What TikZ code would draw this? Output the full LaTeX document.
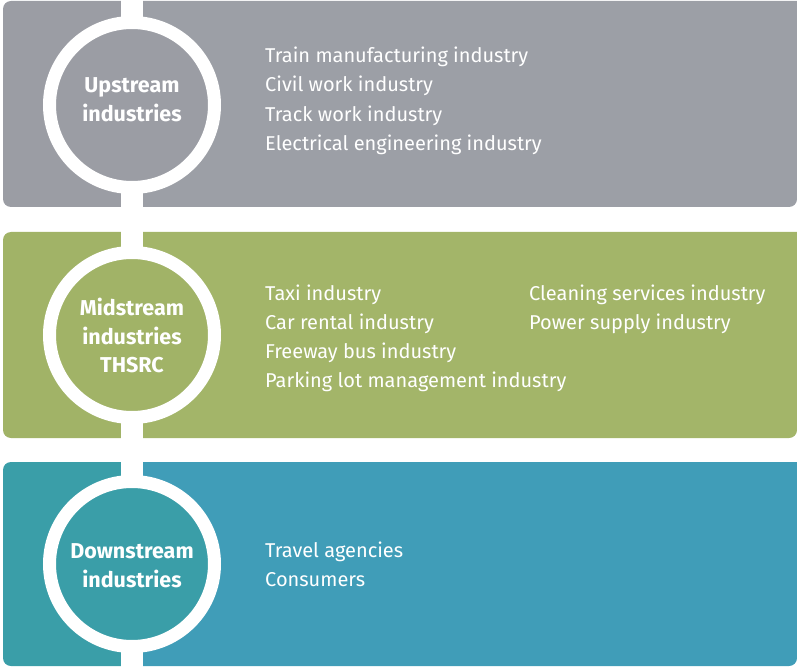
\documentclass[tikz,border=0pt]{standalone}
\usepackage{fontspec}
\setmainfont{Fira Sans}
\definecolor{grayL}{HTML}{9B9DA4}
\definecolor{grayR}{HTML}{9C9FA6}
\definecolor{greenL}{HTML}{A1B367}
\definecolor{greenR}{HTML}{A3B569}
\definecolor{tealL}{HTML}{3A9EA8}
\definecolor{tealR}{HTML}{409DB8}
\begin{document}
\begin{tikzpicture}[x=1pt,y=-1pt,
  item/.style={anchor=base west,inner sep=0pt,text=white,font=\fontsize{20}{24}\selectfont},
  ctitle/.style={anchor=base,inner sep=0pt,text=white,font=\bfseries\fontsize{21.5}{24}\selectfont},
  ring/.style={circle,draw=white,line width=13pt,minimum size=165pt,inner sep=0pt}]
\useasboundingbox (0,0) rectangle (797,668);
% bands
\fill[grayL,rounded corners=8pt] (3,1) rectangle (140,207);
\fill[grayR,rounded corners=8pt] (797,1) -- (797,207) -- (130,207) [sharp corners] -- (130,1) -- cycle;
\fill[greenL,rounded corners=8pt] (3,232) rectangle (140,438);
\fill[greenR,rounded corners=8pt] (797,232) -- (797,438) -- (130,438) [sharp corners] -- (130,232) -- cycle;
\fill[tealL,rounded corners=8pt] (3,462) rectangle (140,666);
\fill[tealR,rounded corners=8pt] (797,462) -- (797,666) -- (130,666) [sharp corners] -- (130,462) -- cycle;
% vertical bar
\fill[white] (121,0) rectangle (143,668);
% circles
\node[ring,fill=grayL] (c1) at (132,105) {};
\node[ring,fill=greenL] (c2) at (132,335) {};
\node[ring,fill=tealL] (c3) at (132,564) {};
% circle titles
\node[ctitle] (t1a) at (132,93) {Upstream};
\node[ctitle] (t1b) at (132,122) {industries};
\node[ctitle] (t2a) at (132,315) {Midstream};
\node[ctitle] (t2b) at (132,344) {industries};
\node[ctitle] (t2c) at (132,372) {THSRC};
\node[ctitle] (t3a) at (132,558) {Downstream};
\node[ctitle] (t3b) at (132,587) {industries};
% items
\node[item] (u1) at (265,63) {Train manufacturing industry};
\node[item] (u2) at (265,92) {Civil work industry};
\node[item] (u3) at (265,122) {Track work industry};
\node[item] (u4) at (265,151) {Electrical engineering industry};
\node[item] (m1) at (265,300) {Taxi industry};
\node[item] (m2) at (265,329) {Car rental industry};
\node[item] (m3) at (265,358) {Freeway bus industry};
\node[item] (m4) at (265,387) {Parking lot management industry};
\node[item] (m5) at (529,300) {Cleaning services industry};
\node[item] (m6) at (529,329) {Power supply industry};
\node[item] (d1) at (265,557) {Travel agencies};
\node[item] (d2) at (265,586) {Consumers};
\end{tikzpicture}
\end{document}
